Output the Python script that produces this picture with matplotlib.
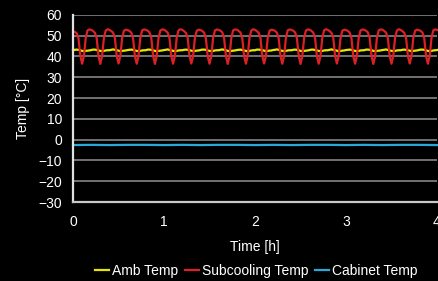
import numpy as np
import matplotlib.pyplot as plt
from matplotlib.lines import Line2D

plt.rcParams['font.family'] = ['Liberation Sans', 'DejaVu Sans']

# time grid: 0..4 h, one sample every 0.02 h (10 per 0.2 h cycle)
time_h = np.linspace(0, 4, 201)

# subcooling temperature, one row per 0.2 h cycle
sub_rows = [
    [52.0, 51.8, 51.2, 48.8, 40.5, 36.5, 40.2, 49.0, 52.6, 53.0],
    [52.8, 52.3, 51.4, 48.9, 40.2, 36.4, 40.4, 49.2, 52.5, 53.1],
    [52.8, 52.2, 51.5, 49.0, 40.4, 36.6, 40.2, 49.0, 52.4, 52.9],
    [52.7, 52.3, 51.5, 48.8, 40.2, 36.5, 40.3, 49.1, 52.6, 53.0],
    [52.8, 52.4, 51.6, 49.0, 40.5, 36.4, 40.2, 49.0, 52.5, 53.0],
    [52.9, 52.3, 51.5, 48.9, 40.2, 36.5, 40.4, 49.2, 52.6, 53.1],
    [52.8, 52.2, 51.4, 49.0, 40.3, 36.6, 40.2, 49.0, 52.4, 52.9],
    [52.7, 52.3, 51.5, 48.8, 40.2, 36.5, 40.3, 49.1, 52.5, 53.0],
    [52.8, 52.4, 51.6, 49.0, 40.4, 36.4, 40.2, 49.0, 52.6, 53.0],
    [52.9, 52.3, 51.5, 48.9, 40.2, 36.5, 40.4, 49.2, 52.5, 53.1],
    [52.8, 52.2, 51.4, 49.0, 40.3, 36.6, 40.2, 49.0, 52.4, 52.9],
    [52.7, 52.3, 51.5, 48.8, 40.2, 36.5, 40.3, 49.1, 52.6, 53.0],
    [52.8, 52.4, 51.6, 49.0, 40.5, 36.4, 40.2, 49.0, 52.5, 53.0],
    [52.9, 52.3, 51.5, 48.9, 40.2, 36.5, 40.4, 49.2, 52.6, 53.1],
    [52.8, 52.2, 51.4, 49.0, 40.3, 36.6, 40.2, 49.0, 52.4, 52.9],
    [52.7, 52.3, 51.5, 48.8, 40.2, 36.5, 40.3, 49.1, 52.5, 53.0],
    [52.8, 52.4, 51.6, 49.0, 40.4, 36.4, 40.2, 49.0, 52.6, 53.0],
    [52.9, 52.3, 51.5, 48.9, 40.2, 36.5, 40.4, 49.2, 52.5, 53.1],
    [52.8, 52.2, 51.4, 49.0, 40.3, 36.6, 40.2, 49.0, 52.4, 52.9],
    [52.7, 52.3, 51.5, 48.8, 40.2, 36.5, 40.3, 49.1, 52.6, 53.0],
]
sub_last = 52.8

# ambient temperature, same grid
amb_rows = [
    [43.0, 43.2, 43.3, 43.2, 43.0, 42.7, 42.6, 42.7, 42.8, 42.9],
    [43.1, 43.3, 43.3, 43.1, 42.9, 42.7, 42.6, 42.7, 42.9, 43.0],
    [43.0, 43.2, 43.4, 43.2, 43.0, 42.8, 42.6, 42.7, 42.8, 42.9],
    [43.1, 43.2, 43.3, 43.2, 42.9, 42.7, 42.6, 42.7, 42.9, 43.0],
    [43.0, 43.3, 43.3, 43.2, 43.0, 42.7, 42.5, 42.7, 42.8, 42.9],
    [43.1, 43.2, 43.4, 43.1, 42.9, 42.7, 42.6, 42.7, 42.9, 43.0],
    [43.0, 43.2, 43.3, 43.2, 43.0, 42.8, 42.6, 42.7, 42.8, 42.9],
    [43.1, 43.3, 43.3, 43.2, 42.9, 42.7, 42.6, 42.7, 42.9, 43.0],
    [43.0, 43.2, 43.4, 43.2, 43.0, 42.7, 42.6, 42.7, 42.8, 42.9],
    [43.1, 43.2, 43.3, 43.1, 42.9, 42.7, 42.5, 42.7, 42.9, 43.0],
    [43.0, 43.3, 43.3, 43.2, 43.0, 42.8, 42.6, 42.7, 42.8, 42.9],
    [43.1, 43.2, 43.4, 43.2, 42.9, 42.7, 42.6, 42.7, 42.9, 43.0],
    [43.0, 43.2, 43.3, 43.2, 43.0, 42.7, 42.6, 42.7, 42.8, 42.9],
    [43.1, 43.3, 43.3, 43.1, 42.9, 42.7, 42.6, 42.7, 42.9, 43.0],
    [43.0, 43.2, 43.4, 43.2, 43.0, 42.8, 42.5, 42.7, 42.8, 42.9],
    [43.1, 43.2, 43.3, 43.2, 42.9, 42.7, 42.6, 42.7, 42.9, 43.0],
    [43.0, 43.3, 43.3, 43.2, 43.0, 42.7, 42.6, 42.7, 42.8, 42.9],
    [43.1, 43.2, 43.4, 43.1, 42.9, 42.7, 42.6, 42.7, 42.9, 43.0],
    [43.0, 43.2, 43.3, 43.2, 43.0, 42.8, 42.6, 42.7, 42.8, 42.9],
    [43.1, 43.3, 43.3, 43.2, 42.9, 42.7, 42.6, 42.7, 42.9, 43.0],
]
amb_last = 43.1

# cabinet temperature, every 0.2 h
cab_time = np.linspace(0, 4, 21)
cab_temp = [-2.6, -2.5, -2.6, -2.5, -2.5, -2.6, -2.5, -2.6, -2.5, -2.5, -2.6,
            -2.5, -2.6, -2.5, -2.5, -2.6, -2.5, -2.6, -2.5, -2.5, -2.6]

sub_temp = [v for row in sub_rows for v in row] + [sub_last]
amb_temp = [v for row in amb_rows for v in row] + [amb_last]

yellow = '#e6e600'
red = '#dd1f26'
blue = '#29a9d9'

fig = plt.figure(figsize=(4.38, 2.81), dpi=100, facecolor='black')
ax = fig.add_axes([0.1667, 0.281, 0.831, 0.666], facecolor='black')

ax.set_xlim(0, 4)
ax.set_ylim(-30, 60)
ax.set_yticks(range(-30, 61, 10))
ax.set_xticks([0, 1, 2, 3, 4])
ax.grid(axis='y', color='#7a7a7a', linewidth=1.3)
ax.set_axisbelow(True)

ax.plot(time_h, amb_temp, color=yellow, linewidth=1.6, clip_on=False)
ax.plot(time_h, sub_temp, color=red, linewidth=1.6, clip_on=False)
ax.plot(cab_time, cab_temp, color=blue, linewidth=1.6, clip_on=False)

for side in ['top', 'right']:
    ax.spines[side].set_visible(False)
ax.spines['left'].set_color('#e0e0e0')
ax.spines['bottom'].set_color('#c8c8c8')
ax.spines['left'].set_linewidth(1.6)
ax.spines['bottom'].set_linewidth(1.6)

ax.tick_params(colors='white', length=0, labelsize=10)
ax.tick_params(axis='y', pad=8)
ax.tick_params(axis='x', pad=9)

ax.set_xlabel('Time [h]', color='white', fontsize=10, labelpad=8)
ax.set_ylabel('Temp [°C]', color='white', fontsize=10, labelpad=6)

handles = [Line2D([], [], color=yellow, linewidth=1.6),
           Line2D([], [], color=red, linewidth=1.6),
           Line2D([], [], color=blue, linewidth=1.6)]
labels = ['Amb Temp', 'Subcooling Temp', 'Cabinet Temp']
leg = fig.legend(handles, labels, loc='center', bbox_to_anchor=(0.585, 0.036),
                 ncol=3, frameon=False, fontsize=10, handlelength=1.0,
                 handletextpad=0.2, columnspacing=0.5, labelcolor='white')

fig.savefig('out.png', dpi=100, facecolor='black')
